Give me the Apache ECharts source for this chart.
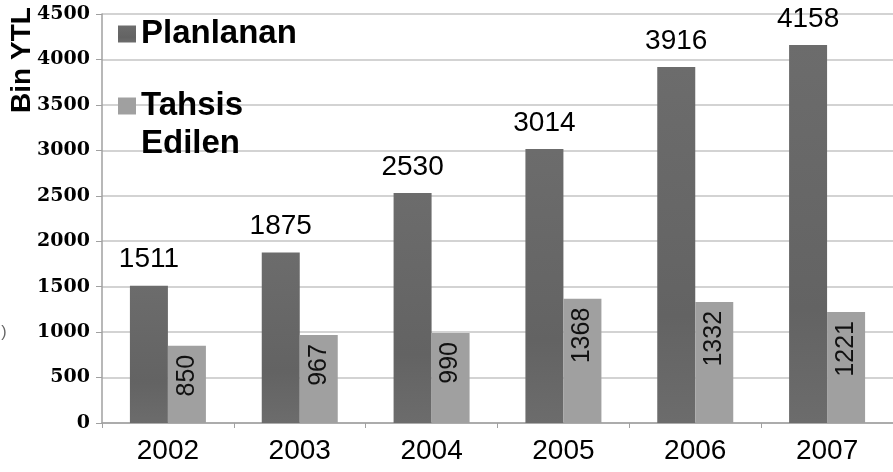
<!DOCTYPE html>
<html>
<head>
<meta charset="utf-8">
<script src="https://cdn.jsdelivr.net/npm/echarts@6/dist/echarts.min.js"></script>
<style>
  html, body { margin: 0; padding: 0; background: #fff; }
  #chart { width: 893px; height: 472px; }
</style>
</head>
<body>
<div id="chart"></div>
<script>
const years = ['2002', '2003', '2004', '2005', '2006', '2007']
const planlanan = [1511, 1875, 2530, 3014, 3916, 4158]
const tahsisEdilen = [850, 967, 990, 1368, 1332, 1221]
const seriesNames = ['Planlanan', 'Tahsis\nEdilen']
const axisTitle = 'Bin YTL'

const chart = echarts.init(document.getElementById('chart'))

const sans = 'Liberation Sans, Arial, sans-serif'

const option = {
  animation: false,
  grid: { left: 102, top: 14, width: 795, bottom: 49 },
  legend: {
    orient: 'vertical',
    left: 113,
    top: 10,
    itemWidth: 18,
    itemHeight: 17,
    itemGap: -4,
    icon: 'rect',
    // leading blank line keeps the marker beside the first line of a two-line name
    formatter: name => name.indexOf('\n') >= 0 ? '\n' + name : name,
    textStyle: {
      fontFamily: sans,
      fontWeight: 'bold',
      fontSize: 33,
      color: '#000',
      lineHeight: 38
    },
    data: seriesNames
  },
  graphic: [
    {
      type: 'text',
      x: 22,
      y: 60,
      rotation: Math.PI / 2,
      style: {
        text: axisTitle,
        font: 'bold 28px ' + sans,
        fill: '#000',
        textAlign: 'center',
        textVerticalAlign: 'middle'
      }
    },
    {
      type: 'text',
      x: 4,
      y: 333,
      style: {
        text: ')',
        font: '16px ' + sans,
        fill: '#666',
        textAlign: 'center',
        textVerticalAlign: 'middle'
      }
    }
  ],
  xAxis: {
    type: 'category',
    data: years,
    axisLine: { lineStyle: { color: '#a0a0a0', width: 1.5 } },
    axisTick: { show: true, length: 5, lineStyle: { color: '#a0a0a0' } },
    axisLabel: {
      margin: 14,
      fontFamily: sans,
      fontSize: 28,
      color: '#000'
    }
  },
  yAxis: {
    type: 'value',
    min: 0,
    max: 4500,
    interval: 500,
    axisLine: { show: true, lineStyle: { color: '#a0a0a0', width: 1.5 } },
    axisTick: { show: true, length: 6, lineStyle: { color: '#a0a0a0' } },
    splitLine: { lineStyle: { color: '#c4c4c4', width: 1.5 } },
    axisLabel: {
      margin: 12,
      formatter: v => String(v),
      fontFamily: 'DejaVu Serif, serif',
      fontWeight: 'bold',
      fontSize: 19,
      color: '#000'
    }
  },
  series: [
    {
      name: seriesNames[0],
      type: 'bar',
      data: planlanan,
      barWidth: 38,
      barGap: '0%',
      itemStyle: {
        color: new echarts.graphic.LinearGradient(0, 0, 0, 1, [
          { offset: 0, color: '#6c6c6c' },
          { offset: 0.7, color: '#636363' },
          { offset: 1, color: '#6c6c6c' }
        ])
      },
      label: {
        show: true,
        position: 'top',
        distance: 12,
        fontFamily: sans,
        fontSize: 28,
        color: '#000'
      }
    },
    {
      name: seriesNames[1],
      type: 'bar',
      data: tahsisEdilen,
      barWidth: 38,
      itemStyle: { color: '#a0a0a0' },
      label: {
        show: true,
        position: 'insideTop',
        distance: 9,
        rotate: 90,
        align: 'right',
        verticalAlign: 'middle',
        fontFamily: sans,
        fontSize: 25,
        color: '#111'
      }
    }
  ]
}

chart.setOption(option)
</script>
</body>
</html>
